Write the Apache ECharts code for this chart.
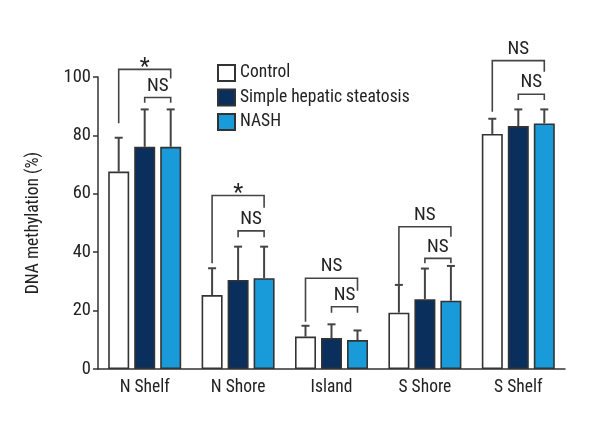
<!DOCTYPE html>
<html>
<head>
<meta charset="utf-8">
<script src="https://cdn.jsdelivr.net/npm/echarts@6/dist/echarts.min.js"></script>
<style>html,body{margin:0;padding:0;background:#fff}#c{width:600px;height:440px}</style>
</head>
<body>
<div id="c"></div>
<script>
// ---- data ----
const categories = ['N Shelf', 'N Shore', 'Island', 'S Shore', 'S Shelf'];
const seriesNames = ['Control', 'Simple hepatic steatosis', 'NASH'];
const controlMean = [67.6, 25.3, 11.1, 19.3, 80.5];
const controlSD   = [11.6, 9.2, 3.7, 9.5, 5.2];
const simpleMean  = [76.1, 30.5, 10.6, 23.9, 83.2];
const simpleSD    = [12.8, 11.4, 4.7, 10.5, 5.7];
const nashMean    = [76.1, 31.1, 9.9, 23.4, 84.1];
const nashSD      = [12.8, 10.8, 3.3, 11.9, 4.8];
const yTicks = [0, 20, 40, 60, 80, 100];
// significance brackets (outer: Control vs NASH, inner: Simple vs NASH)
const outerTop    = [102.6, 59.4, 31.1, 48.7, 105.6];
const outerLeftEnd  = [84.2, 36.2, 16.2, 28.8, 88.1];
const outerRightEnd = [99.5, 55.2, 26.8, 45.3, 101.8];
const outerLabel  = ['*', '*', 'NS', 'NS', 'NS'];
const innerTop    = [93.0, 47.3, 21.3, 37.9, 94.1];
const innerEnd    = [91.2, 45.1, 19.3, 36.2, 92.1];
const innerLabel  = ['NS', 'NS', 'NS', 'NS', 'NS'];

// ---- style ----
const FONT = '"Roboto Condensed", "DejaVu Sans Condensed", sans-serif';
const colors = ['#ffffff', '#0a2f5c', '#1a9bd9'];
const BAR_W = 21, BAR_GAP = 5;
const INK = '#333';

const means = [controlMean, simpleMean, nashMean];
const sds = [controlSD, simpleSD, nashSD];

function offsetOf(k) { return (k - 1) * (BAR_W + BAR_GAP); }

const series = [];
seriesNames.forEach((name, k) => {
  series.push({
    name: name, type: 'bar', barWidth: BAR_W, barGap: (BAR_GAP / BAR_W * 100) + '%',
    data: means[k],
    itemStyle: { color: colors[k], borderColor: INK, borderWidth: 1.6 },
    z: 2
  });
});
seriesNames.forEach((name, k) => {
  series.push({
    type: 'custom', name: name + ' err', clip: false, z: 3, silent: true,
    data: means[k].map((m, i) => [i, m, sds[k][i]]),
    encode: { x: 0, y: 1 },
    renderItem: function (params, api) {
      const i = api.value(0);
      const b = api.coord([i, api.value(1)]);
      const t = api.coord([i, api.value(1) + api.value(2)]);
      const x = b[0] + offsetOf(k);
      return { type: 'group', children: [
        { type: 'line', shape: { x1: x, y1: b[1], x2: x, y2: t[1] }, style: { stroke: '#444', lineWidth: 2 } },
        { type: 'line', shape: { x1: x - 4, y1: t[1], x2: x + 4, y2: t[1] }, style: { stroke: '#444', lineWidth: 2 } }
      ]};
    }
  });
});

function textEl(x, y, s) {
  const star = s === '*';
  return { type: 'text', x: x, y: star ? y + 10 : y - 2, style: {
    text: s, fill: '#222', font: (star ? '23px ' : '19px ') + FONT,
    textAlign: 'center', textVerticalAlign: 'bottom' } };
}

series.push({
  type: 'custom', name: 'brackets', clip: false, z: 4, silent: true,
  data: categories.map((c, i) => [i, outerTop[i], outerLeftEnd[i], outerRightEnd[i], innerTop[i], innerEnd[i]]),
  encode: { x: 0, y: 1 },
  renderItem: function (params, api) {
    const i = api.value(0);
    const idx = params.dataIndex;
    const cx = api.coord([i, 0])[0];
    const xl = cx + offsetOf(0), xm = cx + offsetOf(1), xr = cx + offsetOf(2);
    const oT = api.coord([i, api.value(1)])[1];
    const oL = api.coord([i, api.value(2)])[1];
    const oR = api.coord([i, api.value(3)])[1];
    const iT = api.coord([i, api.value(4)])[1];
    const iE = api.coord([i, api.value(5)])[1];
    const st = { stroke: '#444', lineWidth: 1.6, fill: null };
    return { type: 'group', children: [
      { type: 'polyline', shape: { points: [[xl, oL], [xl, oT], [xr, oT], [xr, oR]] }, style: st },
      { type: 'polyline', shape: { points: [[xm, iE], [xm, iT], [xr, iT], [xr, iE]] }, style: st },
      textEl((xl + xr) / 2, oT, outerLabel[idx]),
      textEl((xm + xr) / 2, iT, innerLabel[idx])
    ]};
  }
});

const chart = echarts.init(document.getElementById('c'), null, { renderer: 'canvas' });
chart.setOption({
  animation: false,
  backgroundColor: '#fff',
  textStyle: { fontFamily: FONT },
  grid: { left: 98, right: 35, top: 77, bottom: 71 },
  legend: {
    data: seriesNames, orient: 'vertical', left: 217, top: 64,
    itemWidth: 17, itemHeight: 16, itemGap: 6.5, selectedMode: false,
    textStyle: { fontFamily: FONT, fontSize: 17.5, color: '#222', lineHeight: 16, padding: [0, 0, 0, 0] },
    icon: 'rect', padding: 0
  },
  xAxis: {
    type: 'category', data: categories,
    axisLine: { lineStyle: { color: INK, width: 1.5 } },
    axisTick: { alignWithLabel: true, length: 4, lineStyle: { color: INK, width: 1.5 } },
    axisLabel: { fontFamily: FONT, fontSize: 17.5, color: '#222', margin: 10 }
  },
  yAxis: {
    type: 'value', min: yTicks[0], max: yTicks[yTicks.length - 1], interval: yTicks[1] - yTicks[0],
    name: 'DNA methylation (%)', nameLocation: 'middle', nameGap: 55, nameRotate: 90,
    nameTextStyle: { fontFamily: FONT, fontSize: 17.5, color: '#222' },
    axisLine: { show: true, lineStyle: { color: INK, width: 1.5 } },
    axisTick: { show: true, length: 5, lineStyle: { color: INK, width: 1.5 } },
    axisLabel: { fontFamily: FONT, fontSize: 18.5, color: '#222', margin: 7 },
    splitLine: { show: false }
  },
  series: series
});
</script>
</body>
</html>
